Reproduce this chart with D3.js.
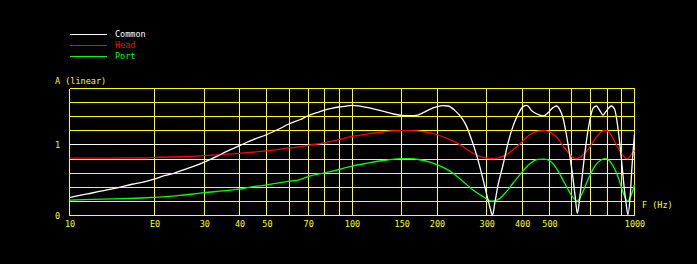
<!DOCTYPE html>
<html>
<head>
<meta charset="utf-8">
<script src="https://cdn.jsdelivr.net/npm/d3@7"></script>
<style>
  body { margin: 0; background: #000; }
  svg { display: block; }
</style>
</head>
<body>
<script>
'use strict';

// grid + tick values (frequency axis is log, amplitude linear)
const xGridValues = [10, 20, 30, 40, 50, 60, 70, 80, 90, 100, 150, 200, 300, 400, 500, 600, 700, 800, 900, 1000];
const xTickValues = [10, 20, 30, 40, 50, 70, 100, 150, 200, 300, 400, 500, 1000];
const xTickLabels = ['10', 'E0', '30', '40', '50', '70', '100', '150', '200', '300', '400', '500', '1000'];
const yGridValues = [0, 0.2, 0.4, 0.6, 0.8, 1.0, 1.2, 1.4, 1.6, 1.8];
const yTickValues = [0, 1];
const yTickLabels = ['0', '1'];

const seriesNames = ['Common', 'Head', 'Port'];

// Common (white)
const commonFreq = [10, 10.76, 12.0, 13.37, 14.9, 16.63, 18.53, 20, 21.8, 23.65, 25.65, 27.45, 30, 33.2, 36.03, 40, 44.73, 50, 55.6, 60, 65.4, 70, 74.97, 80, 84.7, 90, 94.4, 100, 106.6, 114, 122.2, 130.7, 141.8, 150, 160.2, 169.2, 178.6, 188.6, 199.1, 210.2, 218.9, 231.1, 244.1, 254.2, 264.9, 275.8, 287.3, 299.2, 307.4, 314.3, 320.1, 328.9, 342.6, 356.8, 371.6, 387, 403.1, 414.5, 419.8, 431.5, 455.3, 474.5, 494.1, 514.6, 529.1, 543.4, 558.2, 573.9, 589.6, 605.6, 617.6, 627.6, 639.6, 651.6, 666.1, 681, 693.8, 712.8, 732.8, 752.8, 773.3, 795, 827.9, 850.3, 873.6, 898, 917.3, 935.4, 947.6, 966.3, 979, 1000];
const commonAmp = [0.252, 0.281, 0.319, 0.357, 0.395, 0.443, 0.481, 0.519, 0.567, 0.605, 0.655, 0.695, 0.757, 0.838, 0.91, 0.99, 1.076, 1.148, 1.233, 1.30, 1.357, 1.414, 1.457, 1.495, 1.519, 1.538, 1.548, 1.562, 1.55, 1.529, 1.5, 1.471, 1.435, 1.42, 1.415, 1.418, 1.457, 1.505, 1.538, 1.557, 1.552, 1.49, 1.386, 1.267, 1.076, 0.862, 0.6, 0.314, 0.124, 0.005, 0.171, 0.433, 0.719, 1.029, 1.267, 1.433, 1.543, 1.562, 1.552, 1.49, 1.433, 1.41, 1.457, 1.529, 1.552, 1.505, 1.386, 1.148, 0.862, 0.529, 0.243, 0.03, 0.243, 0.529, 0.862, 1.148, 1.338, 1.519, 1.552, 1.49, 1.424, 1.481, 1.552, 1.505, 1.243, 0.814, 0.433, 0.148, 0.014, 0.29, 0.671, 1.148];

// Head (red)
const headFreq = [10, 18.5, 20, 24.63, 30, 40, 50, 60, 65.4, 70, 80, 90, 100, 114, 127.3, 138, 150, 160.2, 178.6, 199.1, 221.9, 240.7, 261.2, 283.4, 303.1, 315.8, 333.4, 352.2, 371.6, 392.4, 419.8, 431.5, 455.3, 480.9, 507.9, 536, 566, 597.7, 622.6, 648.5, 684.3, 722.7, 763.3, 788.4, 816.6, 850.3, 885.7, 922.6, 943, 968.7, 1000];
const headAmp = [0.812, 0.815, 0.823, 0.833, 0.85, 0.881, 0.915, 0.957, 0.974, 0.995, 1.03, 1.076, 1.12, 1.157, 1.18, 1.2, 1.204, 1.204, 1.19, 1.148, 1.076, 1.005, 0.91, 0.838, 0.81, 0.805, 0.824, 0.862, 0.933, 1.014, 1.124, 1.157, 1.195, 1.204, 1.171, 1.09, 0.957, 0.838, 0.805, 0.838, 0.933, 1.076, 1.186, 1.21, 1.171, 1.052, 0.919, 0.824, 0.805, 0.852, 0.919];

// Port (green)
const portFreq = [10, 12, 15.5, 19.5, 22.5, 24.6, 27.45, 30, 35.05, 40, 44.73, 50, 55.6, 60, 65.4, 70, 80, 90, 100, 114, 127.3, 141.5, 150, 160.2, 173.9, 188.6, 210.2, 228, 247.3, 268.3, 291, 311.2, 326.2, 352.2, 371.6, 400, 425.6, 455.3, 480.9, 507.9, 536, 566, 597.7, 617.6, 627.6, 648.5, 684.3, 722.7, 763.3, 788.4, 827.9, 873.6, 909.7, 935.4, 947.6, 968.7, 1000];
const portAmp = [0.218, 0.228, 0.24, 0.255, 0.27, 0.285, 0.305, 0.324, 0.348, 0.376, 0.41, 0.433, 0.467, 0.486, 0.51, 0.552, 0.605, 0.652, 0.7, 0.743, 0.776, 0.8, 0.805, 0.805, 0.79, 0.757, 0.681, 0.6, 0.481, 0.362, 0.267, 0.205, 0.219, 0.338, 0.457, 0.614, 0.729, 0.795, 0.8, 0.757, 0.633, 0.457, 0.29, 0.219, 0.205, 0.29, 0.505, 0.695, 0.79, 0.805, 0.743, 0.552, 0.338, 0.219, 0.205, 0.267, 0.433];

(function() {

  const width = 697;
  const height = 264;
  const left = 69, right = 634, top = 88, bottom = 215;
  const font = '"DejaVu Sans Mono", monospace';
  const yellow = '#ffff00';
  const colors = { Common: '#ffffff', Head: '#ff0000', Port: '#00ff00' };

  let svgContainer = d3.select('body')
    .append('svg')
    .attr('width', width)
    .attr('height', height)
    .style('background', '#000');

  let xScale = d3.scaleLog().domain([10, 1000]).range([left + 0.5, right + 0.5]);
  let yScale = d3.scaleLinear().domain([0, 1.8]).range([bottom + 0.5, top + 0.5]);

  // snap a scaled position onto the middle of a pixel
  let snap = function(v) { return Math.floor(v) + 0.5; };

  drawGrid();
  drawLabels();
  plotData();
  drawLegend();

  // grid lines and tick labels through d3 axes
  function drawGrid() {
    let gx = svgContainer.append('g')
      .attr('transform', 'translate(0,' + (bottom + 0.5) + ')')
      .call(d3.axisBottom(xScale).tickValues(xGridValues)
        .tickSize(-(bottom - top)).tickFormat(''));
    gx.selectAll('.tick')
      .attr('transform', function(d) { return 'translate(' + snap(xScale(d)) + ',0)'; });

    let gy = svgContainer.append('g')
      .attr('transform', 'translate(' + (left + 0.5) + ',0)')
      .call(d3.axisLeft(yScale).tickValues(yGridValues)
        .tickSize(-(right - left)).tickFormat(''));
    gy.selectAll('.tick')
      .attr('transform', function(d) { return 'translate(0,' + snap(yScale(d)) + ')'; });

    [gx, gy].forEach(function(g) {
      g.select('.domain').remove();
      g.selectAll('line')
        .attr('stroke', yellow)
        .attr('stroke-width', 1)
        .attr('shape-rendering', 'crispEdges');
    });

    // reference line at A = 1
    svgContainer.append('line')
      .attr('x1', left).attr('x2', right + 1)
      .attr('y1', snap(yScale(1))).attr('y2', snap(yScale(1)))
      .attr('stroke', '#ffffff')
      .attr('shape-rendering', 'crispEdges');

    let lx = svgContainer.append('g')
      .attr('transform', 'translate(0,' + (bottom + 12) + ')')
      .call(d3.axisBottom(xScale).tickValues(xTickValues).tickSize(0)
        .tickPadding(0).tickFormat(function(d, i) { return xTickLabels[i]; }));
    lx.select('.domain').remove();
    lx.selectAll('text')
      .attr('dy', 0)
      .attr('fill', yellow)
      .style('font-family', font)
      .style('font-size', '8.5px');

    let ly = svgContainer.append('g')
      .attr('transform', 'translate(' + (left - 9) + ',0)')
      .call(d3.axisLeft(yScale).tickValues(yTickValues).tickSize(0)
        .tickPadding(0).tickFormat(function(d, i) { return yTickLabels[i]; }));
    ly.select('.domain').remove();
    ly.selectAll('text')
      .attr('dy', '0.35em')
      .attr('fill', yellow)
      .style('font-family', font)
      .style('font-size', '8.5px');
  }

  // axis titles
  function drawLabels() {
    svgContainer.append('text')
      .attr('x', 55)
      .attr('y', 84)
      .attr('fill', yellow)
      .style('font-family', font)
      .style('font-size', '8.5px')
      .text('A (linear)');

    svgContainer.append('text')
      .attr('x', 642)
      .attr('y', 208)
      .attr('fill', yellow)
      .style('font-family', font)
      .style('font-size', '8.5px')
      .text('F (Hz)');
  }

  // the three response curves
  function plotData() {
    let series = [
      { name: 'Port', f: portFreq, a: portAmp },
      { name: 'Head', f: headFreq, a: headAmp },
      { name: 'Common', f: commonFreq, a: commonAmp }
    ];
    let line = d3.line()
      .x(function(d) { return xScale(d[0]); })
      .y(function(d) { return yScale(d[1]); })
      .curve(d3.curveMonotoneX);

    series.forEach(function(s) {
      svgContainer.append('path')
        .datum(d3.zip(s.f, s.a))
        .attr('d', line)
        .attr('fill', 'none')
        .attr('stroke', colors[s.name])
        .attr('stroke-width', 1.3);
    });
  }

  // legend at top left
  function drawLegend() {
    let rows = svgContainer.append('g').selectAll('g')
      .data(seriesNames)
      .enter()
      .append('g')
      .attr('transform', function(d, i) { return 'translate(0,' + (34.5 + Math.round(i * 10.8)) + ')'; });

    rows.append('line')
      .attr('x1', 70).attr('x2', 107)
      .attr('stroke', function(d) { return colors[d]; })
      .attr('shape-rendering', 'crispEdges');

    rows.append('text')
      .attr('x', 115)
      .attr('y', 2)
      .attr('fill', function(d) { return colors[d]; })
      .style('font-family', font)
      .style('font-size', '8.5px')
      .text(function(d) { return d; });
  }

})();
</script>
</body>
</html>
